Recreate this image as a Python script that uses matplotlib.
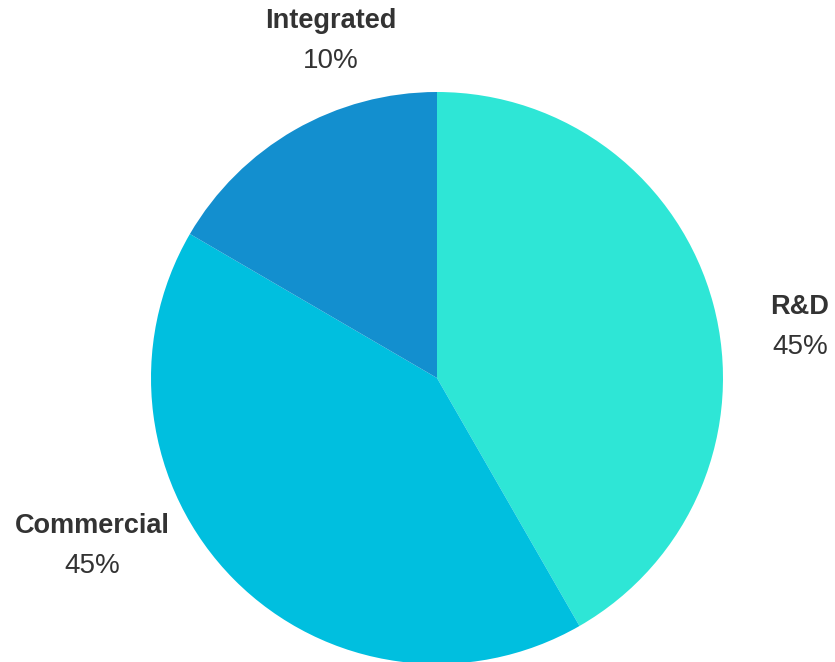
import matplotlib
matplotlib.use("Agg")
import matplotlib.pyplot as plt

# slice shares as drawn, and the percentages printed on the chart
segments = ["R&D", "Commercial", "Integrated"]
shares = [41.7, 41.7, 16.6]
pct_labels = ["45%", "45%", "10%"]
colors = ["#2ee6d6", "#00bfdf", "#138fcf"]

plt.rcParams["font.family"] = ["Liberation Sans", "DejaVu Sans"]

fig = plt.figure(figsize=(8.35, 6.62), dpi=100)
ax = fig.add_axes([0, 0, 1, 1])

ax.pie(shares, colors=colors, startangle=90, counterclock=False,
       center=(437, 284), radius=286, frame=True,
       wedgeprops=dict(linewidth=0))
ax.set_xlim(0, 835)
ax.set_ylim(0, 662)
ax.set_aspect("equal")
ax.axis("off")

# label positions (name, then percentage underneath)
label_xy = {"R&D": (800, 355), "Commercial": (92, 136), "Integrated": (331, 641)}
for name, pct in zip(segments, pct_labels):
    x, y = label_xy[name]
    ax.text(x, y, name, ha="center", va="center", fontsize=19.5,
            fontweight="bold", color="#333333")
    ax.text(x, y - 40, pct, ha="center", va="center", fontsize=20,
            color="#333333")

fig.savefig("out.png", dpi=100)
